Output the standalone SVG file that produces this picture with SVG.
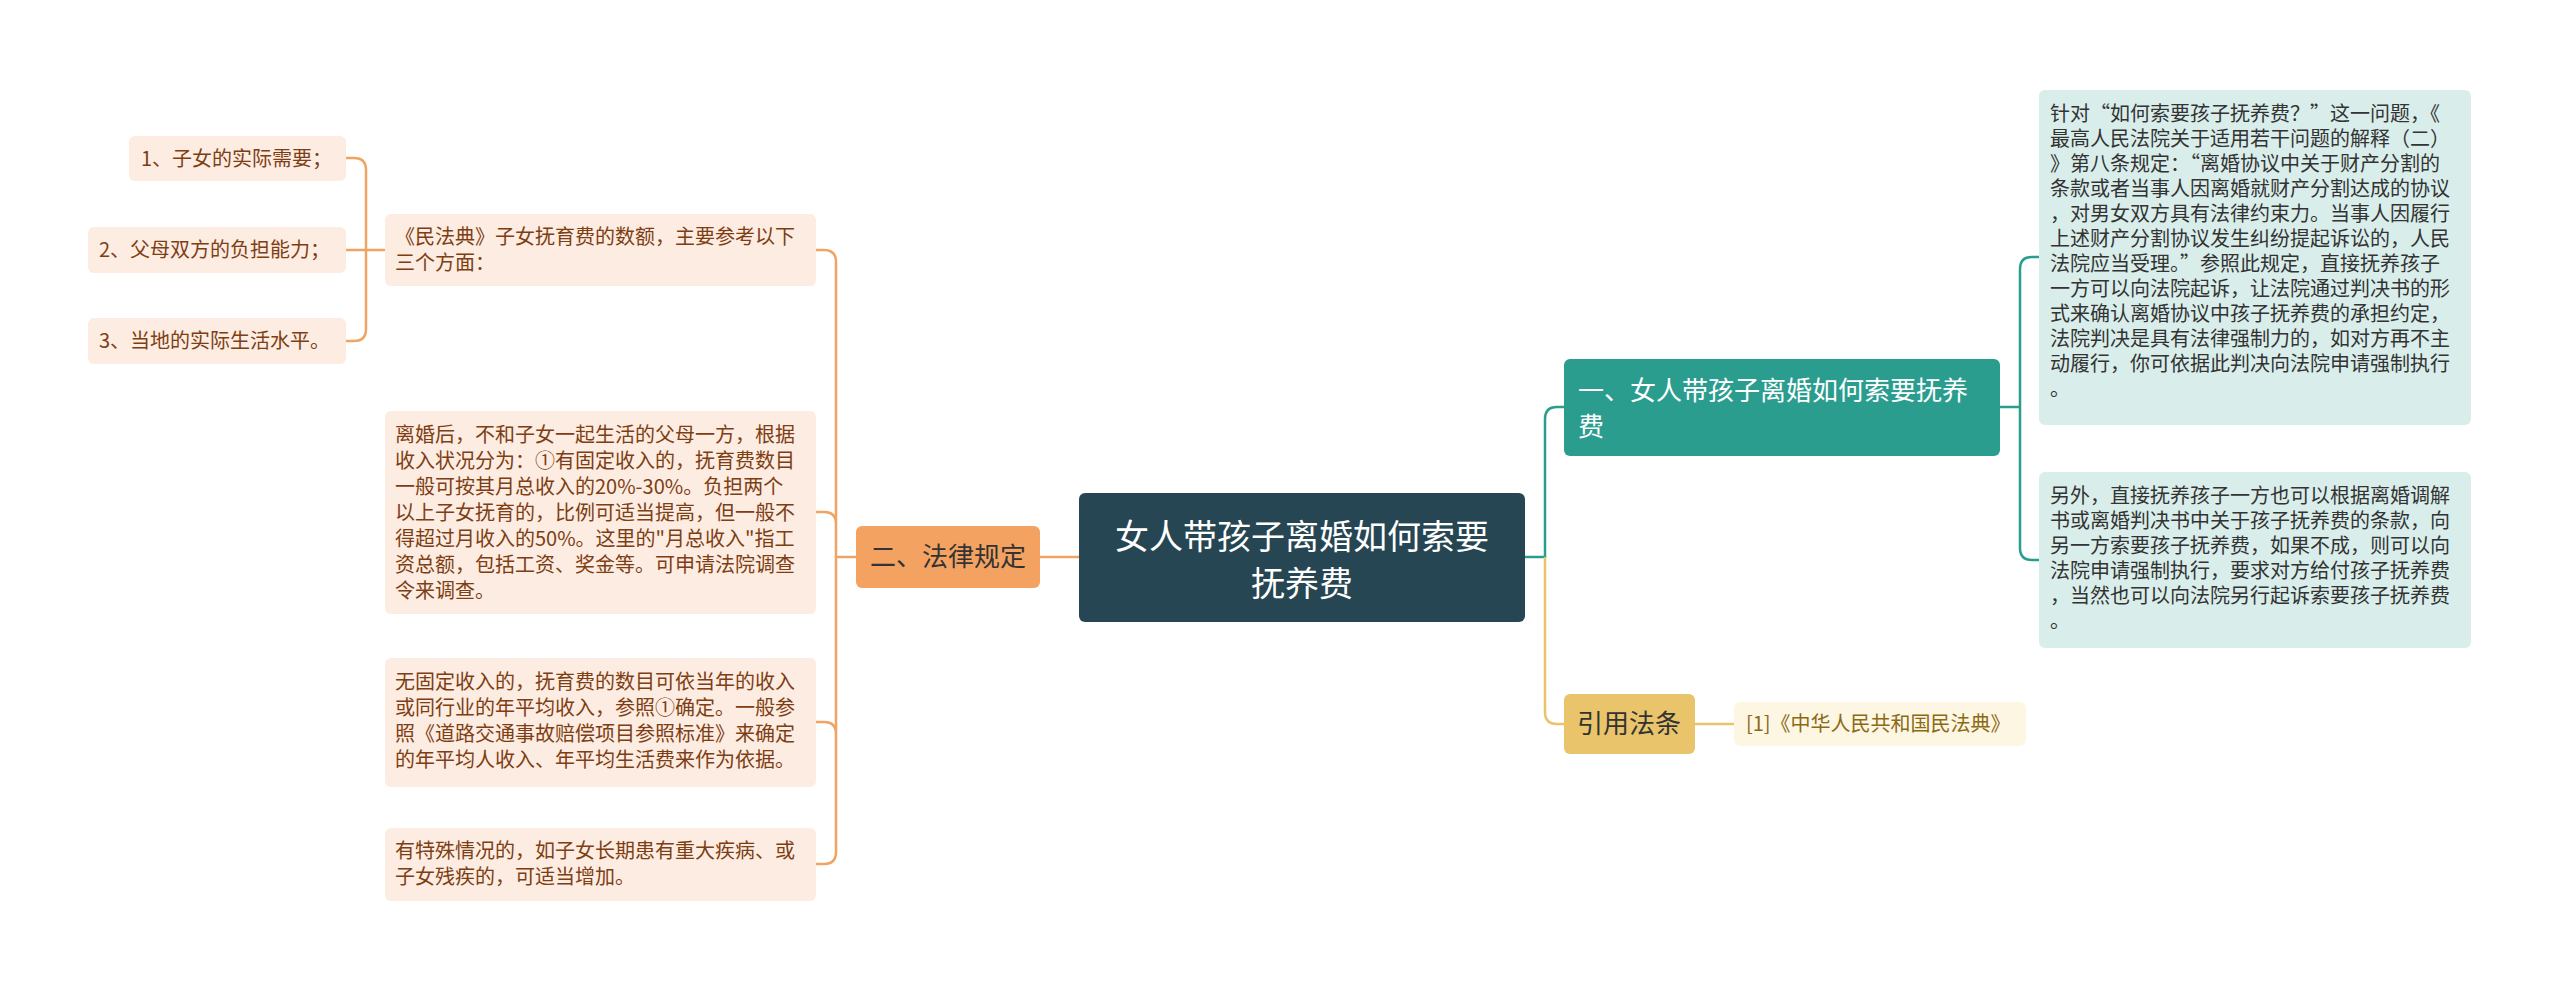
<svg xmlns="http://www.w3.org/2000/svg" width="2560" height="991" viewBox="0 0 2560 991">
<style>
text{font-family:"Noto Sans CJK SC","Noto Sans",sans-serif}
.s{font-size:20px}
.lb{fill:#fdece1}
.lt{fill:#7d3e14}
.rb{fill:#d9eeeb}
.rt{fill:#333}
.co{fill:none;stroke:#f0a463;stroke-width:2.5}
.ct{fill:none;stroke:#2a9d8f;stroke-width:2.5}
.cy{fill:none;stroke:#e9c46a;stroke-width:2.5}
</style>
<rect width="2560" height="991" fill="#fff"/>
<g id="connectors">
<path class="co" d="M1079 557H1040"/>
<path class="co" d="M856 557H836M816 250h8q12 0 12 12V852q0 12-12 12h-8M816 512h8q12 0 12 12M816 722h8q12 0 12 12"/>
<path class="co" d="M385 250H366M346 158h8q12 0 12 12V329q0 12-12 12h-8M346 250h20"/>
<path class="ct" d="M1525 557h20V419q0-12 12-12h7"/>
<path class="cy" d="M1545 557V712q0 12 12 12h7"/>
<path class="ct" d="M2000 407h20M2039 257h-7q-12 0-12 12V548q0 12 12 12h7"/>
<path class="cy" d="M1695 724H1734"/>
</g>
<g id="central"><rect x="1079" y="493" width="446" height="129" rx="6" fill="#264653"/>
<text x="1302" y="549" font-size="34" fill="#fff" text-anchor="middle">女人带孩子离婚如何索要</text>
<text x="1302" y="596" font-size="34" fill="#fff" text-anchor="middle">抚养费</text></g>
<g id="n2"><rect x="856" y="526" width="184" height="62" rx="6" fill="#f4a261"/>
<text x="948" y="566" font-size="26" fill="#333" text-anchor="middle">二、法律规定</text></g>
<g id="n1"><rect x="1564" y="359" width="436" height="97" rx="6" fill="#2a9d8f"/>
<text x="1578" y="400" font-size="26" fill="#fff">一、女人带孩子离婚如何索要抚养</text>
<text x="1578" y="436" font-size="26" fill="#fff">费</text></g>
<g id="n3"><rect x="1564" y="694" width="131" height="60" rx="6" fill="#e9c46a"/>
<text x="1629" y="733" font-size="26" fill="#333" text-anchor="middle">引用法条</text></g>
<g id="ref"><rect x="1734" y="702" width="292" height="44" rx="6" fill="#fdf6e3"/>
<text x="1746" y="731" class="s" fill="#8a6a14">[1]《中华人民共和国民法典》</text></g>
<g id="r1"><rect x="2039" y="90" width="432" height="335" rx="6" class="rb"/>
<text class="s rt" x="2050">
<tspan x="2050" y="121">针对“如何索要孩子抚养费？”这一问题，《</tspan>
<tspan x="2050" y="146">最高人民法院关于适用若干问题的解释（二）</tspan>
<tspan x="2050" y="171">》第八条规定：“离婚协议中关于财产分割的</tspan>
<tspan x="2050" y="196">条款或者当事人因离婚就财产分割达成的协议</tspan>
<tspan x="2050" y="221">，对男女双方具有法律约束力。当事人因履行</tspan>
<tspan x="2050" y="246">上述财产分割协议发生纠纷提起诉讼的，人民</tspan>
<tspan x="2050" y="271">法院应当受理。”参照此规定，直接抚养孩子</tspan>
<tspan x="2050" y="296">一方可以向法院起诉，让法院通过判决书的形</tspan>
<tspan x="2050" y="321">式来确认离婚协议中孩子抚养费的承担约定，</tspan>
<tspan x="2050" y="346">法院判决是具有法律强制力的，如对方再不主</tspan>
<tspan x="2050" y="371">动履行，你可依据此判决向法院申请强制执行</tspan>
<tspan x="2050" y="396">。</tspan></text></g>
<g id="r2"><rect x="2039" y="472" width="432" height="176" rx="6" class="rb"/>
<text class="s rt">
<tspan x="2050" y="503">另外，直接抚养孩子一方也可以根据离婚调解</tspan>
<tspan x="2050" y="528">书或离婚判决书中关于孩子抚养费的条款，向</tspan>
<tspan x="2050" y="553">另一方索要孩子抚养费，如果不成，则可以向</tspan>
<tspan x="2050" y="578">法院申请强制执行，要求对方给付孩子抚养费</tspan>
<tspan x="2050" y="603">，当然也可以向法院另行起诉索要孩子抚养费</tspan>
<tspan x="2050" y="628">。</tspan></text></g>
<g id="l1"><rect x="385" y="214" width="431" height="72" rx="6" class="lb"/>
<text class="s lt"><tspan x="395" y="244">《民法典》子女抚育费的数额，主要参考以下</tspan><tspan x="395" y="270">三个方面：</tspan></text></g>
<g id="l2"><rect x="385" y="411" width="431" height="203" rx="6" class="lb"/>
<text class="s lt">
<tspan x="395" y="442">离婚后，不和子女一起生活的父母一方，根据</tspan>
<tspan x="395" y="468">收入状况分为：①有固定收入的，抚育费数目</tspan>
<tspan x="395" y="494">一般可按其月总收入的20%-30%。负担两个</tspan>
<tspan x="395" y="520">以上子女抚育的，比例可适当提高，但一般不</tspan>
<tspan x="395" y="546">得超过月收入的50%。这里的"月总收入"指工</tspan>
<tspan x="395" y="572">资总额，包括工资、奖金等。可申请法院调查</tspan>
<tspan x="395" y="598">令来调查。</tspan></text></g>
<g id="l3"><rect x="385" y="658" width="431" height="129" rx="6" class="lb"/>
<text class="s lt">
<tspan x="395" y="689">无固定收入的，抚育费的数目可依当年的收入</tspan>
<tspan x="395" y="715">或同行业的年平均收入，参照①确定。一般参</tspan>
<tspan x="395" y="741">照《道路交通事故赔偿项目参照标准》来确定</tspan>
<tspan x="395" y="767">的年平均人收入、年平均生活费来作为依据。</tspan></text></g>
<g id="l4"><rect x="385" y="828" width="431" height="73" rx="6" class="lb"/>
<text class="s lt"><tspan x="395" y="858">有特殊情况的，如子女长期患有重大疾病、或</tspan><tspan x="395" y="884">子女残疾的，可适当增加。</tspan></text></g>
<g id="a1"><rect x="129" y="136" width="217" height="45" rx="6" class="lb"/>
<text x="141" y="166" class="s lt">1、子女的实际需要；</text></g>
<g id="a2"><rect x="88" y="227" width="258" height="46" rx="6" class="lb"/>
<text x="99" y="257" class="s lt">2、父母双方的负担能力；</text></g>
<g id="a3"><rect x="88" y="318" width="258" height="46" rx="6" class="lb"/>
<text x="99" y="348" class="s lt">3、当地的实际生活水平。</text></g>
</svg>
